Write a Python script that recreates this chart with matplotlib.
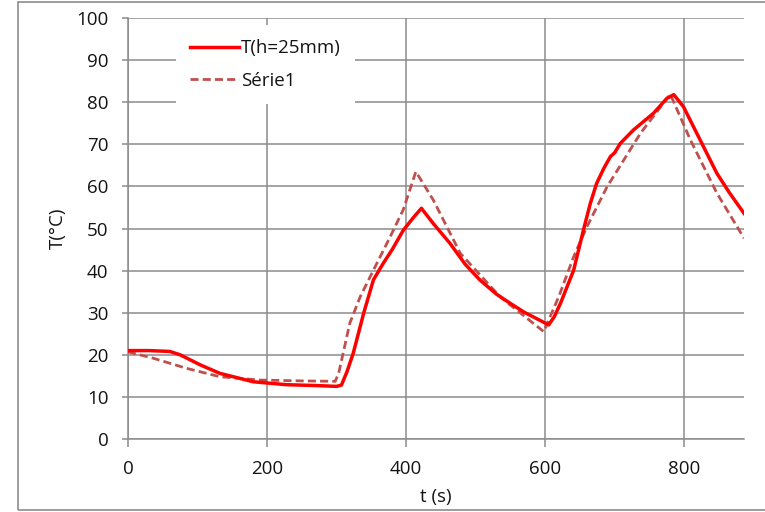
import matplotlib
matplotlib.use("Agg")
import matplotlib.pyplot as plt
from matplotlib.patches import Rectangle

# ---- data ----
t_red = [0, 30, 60, 75, 104, 132, 180, 228, 270, 300, 307, 315, 324, 339, 353, 367, 380,
         396, 410, 422, 440, 463, 485, 506, 530, 550, 570, 590, 605, 613, 622, 641, 655,
         665, 674, 685, 694, 700, 708, 727, 756, 775, 785, 799, 823, 847, 865, 886]
T_red = [21, 21, 20.8, 20, 17.6, 15.6, 13.6, 12.9, 12.7, 12.5, 12.8, 16, 20.4, 29.9, 37.8,
         41.7, 45, 49.6, 52.5, 54.8, 51, 46.5, 41.5, 37.8, 34.4, 32.2, 30.1, 28.4, 27.1,
         29, 32.2, 40.1, 49.6, 56, 60.7, 64.5, 67.1, 68, 70.2, 73.4, 77.4, 80.9, 81.8,
         78.9, 71, 63.1, 58.5, 53.6]

t_s1 = [0, 36, 84, 132, 190, 250, 298, 303, 319, 334, 353, 377, 396, 414, 439, 478, 535,
        598, 620, 641, 660, 689, 737, 780, 809, 847, 886]
T_s1 = [20.7, 19.2, 16.8, 14.8, 14, 13.8, 13.7, 15.6, 27.5, 33.8, 40.1, 48, 54.5, 63.5,
        56.8, 44.1, 33.8, 25.5, 34, 43.3, 50.4, 59.9, 72.6, 81.9, 71, 58.4, 47.7]

label_red = "T(h=25mm)"
label_s1 = "Série1"
xticks = [0, 200, 400, 600, 800]
yticks = [0, 10, 20, 30, 40, 50, 60, 70, 80, 90, 100]

# ---- style ----
plt.rcParams['font.family'] = ['Open Sans', 'DejaVu Sans']
W, H = 765, 512
fig = plt.figure(figsize=(W / 100, H / 100), dpi=100)
ax = fig.add_axes([128 / W, 1 - 439 / H, (744 - 128) / W, (439 - 18) / H])

grid_c = '#8c8c8c'
text_c = '#141414'
fs = 13.5

ax.plot(t_red, T_red, color='#ff0000', lw=2.5, label=label_red, zorder=4,
        solid_joinstyle='round')
ax.plot(t_s1, T_s1, color='#c0504d', lw=2.0, ls=(0, (2.9, 1.5)), label=label_s1, zorder=3)

ax.set_xlim(0, 886)
ax.set_ylim(0, 100)
ax.set_xticks(xticks)
ax.set_yticks(yticks)
ax.grid(True, color=grid_c, lw=1.1, zorder=0)
ax.set_axisbelow(True)
for s in ['top', 'right']:
    ax.spines[s].set_visible(False)
for s in ['left', 'bottom']:
    ax.spines[s].set_color(grid_c)
    ax.spines[s].set_linewidth(1.1)
ax.tick_params(axis='y', length=4, width=1.1, color=grid_c, pad=10,
               labelsize=fs, labelcolor=text_c)
ax.tick_params(axis='x', length=6, width=1.1, color=grid_c, pad=9,
               labelsize=fs, labelcolor=text_c)

ax.set_xlabel("t (s)", fontsize=fs, color=text_c, labelpad=7)
ax.set_ylabel("T(°C)", fontsize=fs, color=text_c, labelpad=7)

leg = ax.legend(loc='upper left', bbox_to_anchor=(176 / W, 1 - 25 / H),
                bbox_transform=fig.transFigure, frameon=True, fancybox=False,
                edgecolor='none', facecolor='white', framealpha=1,
                fontsize=fs, handlelength=2.6, handletextpad=0.12,
                labelspacing=0.78, borderpad=0.75, borderaxespad=0)
for txt in leg.get_texts():
    txt.set_color(text_c)

# outer frame
fig.patches.append(Rectangle((18 / W, 2 / H), 1.2, 1 - 4 / H, transform=fig.transFigure,
                             fill=False, edgecolor='#8c8c8c', lw=1.2, clip_on=False))

fig.savefig("out.png", dpi=100)
